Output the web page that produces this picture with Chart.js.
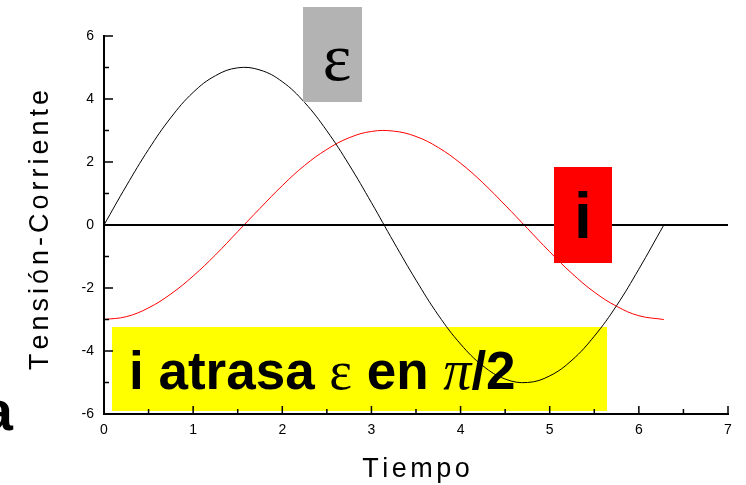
<!DOCTYPE html>
<html>
<head>
<meta charset="utf-8">
<script src="https://cdn.jsdelivr.net/npm/chart.js@4.4.1/dist/chart.umd.min.js"></script>
<style>
  html, body { margin: 0; padding: 0; background: #fff; }
  #wrap { width: 746px; height: 485px; }
</style>
</head>
<body>
<div id="wrap"><canvas id="ondas" width="746" height="485"></canvas></div>
<script>
// tiempo (rad) and the two waves read along it
const tiempo = [0, 0.25, 0.5, 0.75, 1.0, 1.25, 1.5, 1.75, 2.0, 2.25, 2.5, 2.75, 3.0,
  3.25, 3.5, 3.75, 4.0, 4.25, 4.5, 4.75, 5.0, 5.25, 5.5, 5.75, 6.0, 6.28];
const tension = [0, 1.24, 2.40, 3.41, 4.21, 4.74, 4.99, 4.92, 4.55, 3.89, 2.99, 1.91, 0.71,
  -0.54, -1.75, -2.86, -3.78, -4.47, -4.89, -5.00, -4.79, -4.29, -3.53, -2.56, -1.40, 0];
const corriente = [-3, -2.91, -2.63, -2.19, -1.62, -0.95, -0.21, 0.53, 1.25, 1.89, 2.40, 2.77, 2.97,
  2.98, 2.81, 2.46, 1.96, 1.34, 0.63, -0.11, -0.85, -1.54, -2.13, -2.58, -2.88, -3.0];
// horizontal reference line y = 0
const ceroX = [0, 7];
const ceroY = [0, 0];

const xTicks = [0, 1, 2, 3, 4, 5, 6, 7];
const yTicks = [-6, -4, -2, 0, 2, 4, 6];

const SANS = '"Liberation Sans", Arial, sans-serif';
const SERIF = '"Liberation Serif", "Times New Roman", serif';

const pts = (xs, ys) => xs.map((x, i) => ({ x: x, y: ys[i] }));

// draws text with extra space between letters, centred on (cx, y)
function spaced(ctx, text, cx, y, gap) {
  const chars = Array.from(text);
  const widths = chars.map(c => ctx.measureText(c).width);
  const total = widths.reduce((a, b) => a + b, 0) + gap * (chars.length - 1);
  let x = cx - total / 2;
  ctx.textAlign = 'left';
  chars.forEach((c, i) => { ctx.fillText(c, x, y); x += widths[i] + gap; });
}

// mixed-font run of text, left aligned at x
function run(ctx, parts, x, y) {
  let cx = x;
  ctx.textAlign = 'left';
  ctx.textBaseline = 'alphabetic';
  parts.forEach(p => {
    ctx.font = p.font;
    ctx.fillText(p.text, cx, y);
    cx += ctx.measureText(p.text).width;
  });
}

const decor = {
  id: 'decor',
  beforeDatasetsDraw(chart) {
    const ctx = chart.ctx;
    ctx.save();
    ctx.fillStyle = '#ffff00';
    ctx.fillRect(112, 327, 495, 84);
    ctx.fillStyle = '#000';
    run(ctx, [
      { text: 'i atrasa ', font: 'bold 53px ' + SANS },
      { text: 'ε', font: '54px ' + SERIF },
      { text: ' en ', font: 'bold 53px ' + SANS },
      { text: 'π', font: 'italic 56px ' + SERIF },
      { text: '/2', font: 'bold 53px ' + SANS }
    ], 129, 389);
    ctx.restore();
  },
  afterDatasetsDraw(chart) {
    const ctx = chart.ctx;
    const xs = chart.scales.x, ys = chart.scales.y;
    ctx.save();

    // inward ticks, major and minor
    ctx.strokeStyle = '#000';
    ctx.lineWidth = 1.5;
    ctx.beginPath();
    const bottom = ys.getPixelForValue(-6);
    const left = xs.getPixelForValue(0);
    xTicks.forEach((v, i) => {
      const px = xs.getPixelForValue(v);
      ctx.moveTo(px, bottom); ctx.lineTo(px, bottom - 8);
      if (i < xTicks.length - 1) {
        const pm = xs.getPixelForValue((v + xTicks[i + 1]) / 2);
        ctx.moveTo(pm, bottom); ctx.lineTo(pm, bottom - 5);
      }
    });
    yTicks.forEach((v, i) => {
      const py = ys.getPixelForValue(v);
      ctx.moveTo(left, py); ctx.lineTo(left + 9, py);
      if (i < yTicks.length - 1) {
        const pm = ys.getPixelForValue((v + yTicks[i + 1]) / 2);
        ctx.moveTo(left, pm); ctx.lineTo(left + 5, pm);
      }
    });
    ctx.stroke();

    // labels for the two waves
    ctx.fillStyle = '#b3b3b3';
    ctx.fillRect(303, 7, 59, 95);
    ctx.fillStyle = '#000';
    ctx.font = '68px ' + SERIF;
    ctx.textAlign = 'center';
    ctx.textBaseline = 'alphabetic';
    ctx.fillText('ε', 337, 80);

    ctx.fillStyle = '#ff0000';
    ctx.fillRect(554, 167, 58, 96);
    ctx.fillStyle = '#000';
    ctx.font = 'bold 64px ' + SANS;
    ctx.fillText('i', 583, 238);

    // axis titles
    ctx.font = '27px ' + SANS;
    ctx.textBaseline = 'alphabetic';
    spaced(ctx, 'Tiempo', 416, 477, 3.5);
    ctx.save();
    ctx.translate(48, 230);
    ctx.rotate(-Math.PI / 2);
    spaced(ctx, 'Tensión-Corriente', 0, 0, 4);
    ctx.restore();

    // clipped letter at the left edge
    ctx.font = 'bold 56px ' + SANS;
    ctx.textAlign = 'right';
    ctx.fillText('a', 13, 430);

    ctx.restore();
  }
};

new Chart(document.getElementById('ondas'), {
  type: 'scatter',
  data: {
    datasets: [
      {
        data: pts(ceroX, ceroY),
        showLine: true,
        borderColor: '#000',
        borderWidth: 2,
        pointRadius: 0
      },
      {
        data: pts(tiempo, tension),
        showLine: true,
        borderColor: '#000',
        borderWidth: 1,
        pointRadius: 0,
        tension: 0.4
      },
      {
        data: pts(tiempo, corriente),
        showLine: true,
        borderColor: '#ff0000',
        borderWidth: 1,
        pointRadius: 0,
        tension: 0.4
      }
    ]
  },
  options: {
    responsive: false,
    animation: false,
    layout: { padding: { top: 36, right: 18, left: 0, bottom: 0 } },
    plugins: {
      legend: { display: false },
      tooltip: { enabled: false }
    },
    scales: {
      x: {
        type: 'linear',
        min: 0,
        max: 7,
        grid: { display: false, drawTicks: false },
        border: { display: true, color: '#000', width: 2 },
        ticks: {
          color: '#000',
          font: { family: SANS, size: 14 },
          padding: 8,
          maxRotation: 0
        },
        afterBuildTicks: s => { s.ticks = xTicks.map(v => ({ value: v })); },
        afterFit: s => { s.height = 71; }
      },
      y: {
        type: 'linear',
        min: -6,
        max: 6,
        grid: { display: false, drawTicks: false },
        border: { display: true, color: '#000', width: 2 },
        ticks: {
          color: '#000',
          font: { family: SANS, size: 14 },
          padding: 10
        },
        afterBuildTicks: s => { s.ticks = yTicks.map(v => ({ value: v })); },
        afterFit: s => { s.width = 104; }
      }
    }
  },
  plugins: [decor]
});
</script>
</body>
</html>
